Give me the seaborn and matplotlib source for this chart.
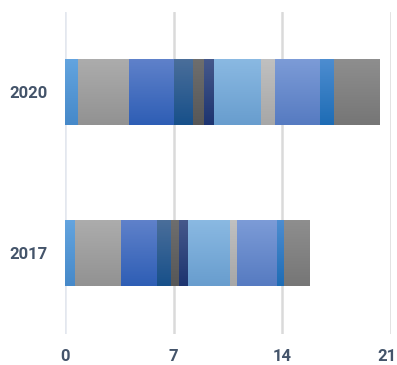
import numpy as np
import pandas as pd
import matplotlib
matplotlib.use("Agg")
import matplotlib.pyplot as plt
import matplotlib.colors as mcolors
import matplotlib.transforms as mtransforms
import seaborn as sns

years = ["2020", "2017"]
seg_2020 = [0.83, 3.28, 2.93, 1.18, 0.71, 0.64, 3.08, 0.90, 2.89, 0.90, 2.95]
seg_2017 = [0.64, 2.96, 2.31, 0.90, 0.51, 0.58, 2.70, 0.45, 2.63, 0.45, 1.67]
x_ticks = [0, 7, 14, 21]

# gradient colours (top, bottom) per segment
grad = [
    ("#63A4DF", "#4689C9"),
    ("#ACACAC", "#929292"),
    ("#5F81CA", "#2E5EB5"),
    ("#4A6E9A", "#17508A"),
    ("#6E6E6E", "#575757"),
    ("#45588B", "#1D3470"),
    ("#8AB9E2", "#689DCE"),
    ("#C0C0C0", "#A7A7A7"),
    ("#7C9BD7", "#567BC1"),
    ("#4D8DD0", "#1E6CB5"),
    ("#8E8E8E", "#767676"),
]

sns.set_theme(style="white")
plt.rcParams["font.family"] = ["Roboto", "DejaVu Sans"]

fig = plt.figure(figsize=(3.97, 3.65), dpi=100)
x0px, x21px = 65.3, 390.7
ax = fig.add_axes([x0px / 397, (365 - 333.5) / 365, (x21px - x0px) / 397, (333.5 - 11.5) / 365])

segs = np.array([seg_2020, seg_2017])
cum = np.cumsum(segs, axis=1)
starts = cum - segs
n = segs.shape[1]

bar_w = 0.405
# draw stacked bars (largest cumulative first)
for i in reversed(range(n)):
    df = pd.DataFrame({"year": years, "value": cum[:, i]})
    sns.barplot(data=df, x="value", y="year", orient="h", color=grad[i][0],
                width=bar_w, saturation=1, ax=ax, linewidth=0, zorder=2)

# gradient overlays
for j, yr in enumerate(years):
    for i in range(n):
        c_top = np.array(mcolors.to_rgb(grad[i][0]))
        c_bot = np.array(mcolors.to_rgb(grad[i][1]))
        t = np.linspace(0, 1, 64)[:, None]
        img = (c_top[None, :] * (1 - t) + c_bot[None, :] * t)[:, None, :]
        ax.imshow(img, extent=[starts[j, i], cum[j, i], j + bar_w / 2, j - bar_w / 2],
                  origin="upper", aspect="auto", zorder=3, interpolation="bilinear")

ax.set_xlim(0, 21)
ax.set_ylim(1.5, -0.5)
ax.set_xticks(x_ticks)
ax.set_xticklabels([str(v) for v in x_ticks])
ax.set_xlabel("")
ax.set_ylabel("")
for s in ax.spines.values():
    s.set_visible(False)
ax.grid(False)
for k, xv in enumerate(x_ticks):
    ax.axvline(xv, color="#E3E7EE" if k == 0 else "#DADADA", lw=1.8, zorder=0.5)
ax.tick_params(axis="both", length=0, labelsize=12, labelcolor="#44546A")
ax.tick_params(axis="x", pad=11)
ax.tick_params(axis="y", pad=13)
for lab in ax.get_xticklabels() + ax.get_yticklabels():
    lab.set_fontweight(600)

# keep the last x label inside the figure
last = ax.get_xticklabels()[-1]
last.set_transform(last.get_transform() + mtransforms.ScaledTranslation(-4 / 100, 0, fig.dpi_scale_trans))

fig.savefig("out.png", dpi=100)
